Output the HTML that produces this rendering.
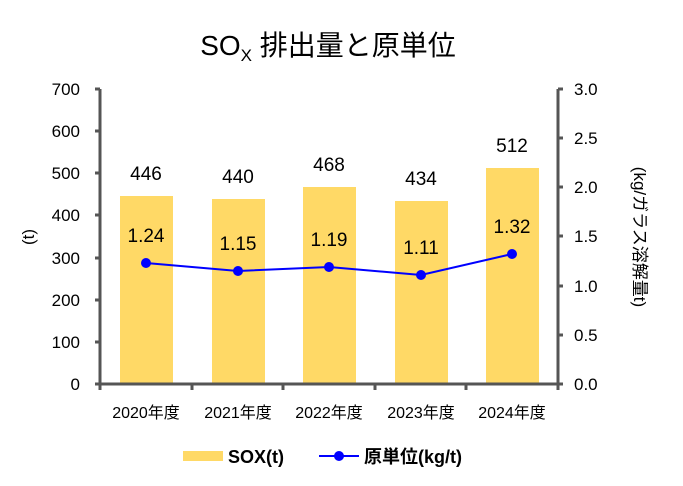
<html><body style="margin:0;background:#fff">
<svg width="683" height="486" xmlns="http://www.w3.org/2000/svg" font-family="Liberation Sans, Noto Sans CJK JP, sans-serif">
<rect width="683" height="486" fill="#fff"/>
<text x="328" y="55" font-size="28" text-anchor="middle" fill="#000">SO<tspan font-size="17" dy="6">X</tspan><tspan dy="-6"> 排出量と原単位</tspan></text>
<g fill="#FFD966">
<rect x="120" y="196" width="53" height="188"/>
<rect x="212" y="199" width="53" height="185"/>
<rect x="303" y="187" width="53" height="197"/>
<rect x="395" y="201" width="53" height="183"/>
<rect x="486" y="168" width="53" height="216"/>
</g>
<g stroke="#555" stroke-width="3" fill="none">
<path d="M100 89V384H558V89"/>
<path d="M95 89H100M95 131H100M95 173H100M95 215H100M95 258H100M95 300H100M95 342H100M95 384H100"/>
<path d="M558 89H563M558 138H563M558 187H563M558 236H563M558 286H563M558 335H563M558 384H563"/>
<path d="M100 384V390M192 384V390M283 384V390M375 384V390M466 384V390M558 384V390"/>
</g>
<g font-size="17" text-anchor="end" fill="#000">
<text x="80" y="95">700</text><text x="80" y="137">600</text><text x="80" y="179">500</text><text x="80" y="221">400</text><text x="80" y="264">300</text><text x="80" y="306">200</text><text x="80" y="348">100</text><text x="80" y="390">0</text>
</g>
<g font-size="17" text-anchor="start" fill="#000">
<text x="574" y="95">3.0</text><text x="574" y="144">2.5</text><text x="574" y="193">2.0</text><text x="574" y="242">1.5</text><text x="574" y="292">1.0</text><text x="574" y="341">0.5</text><text x="574" y="390">0.0</text>
</g>
<text x="34" y="237" font-size="17" transform="rotate(-90 34 237)" text-anchor="middle">(t)</text>
<text x="634" y="237" font-size="17" transform="rotate(90 634 237)" text-anchor="middle">(kg/ガラス溶解量t)</text>
<g font-size="16" text-anchor="middle">
<text x="146" y="418">2020年度</text><text x="238" y="418">2021年度</text><text x="329" y="418">2022年度</text><text x="421" y="418">2023年度</text><text x="512" y="418">2024年度</text>
</g>
<g font-size="19" text-anchor="middle">
<text x="146" y="180">446</text><text x="238" y="183">440</text><text x="329" y="171">468</text><text x="421" y="185">434</text><text x="512" y="152">512</text>
<text x="146" y="242">1.24</text><text x="238" y="250">1.15</text><text x="329" y="246">1.19</text><text x="421" y="254">1.11</text><text x="512" y="233">1.32</text>
</g>
<polyline points="146,263 238,271 329,267 421,275 512,254" fill="none" stroke="#0000FF" stroke-width="2"/>
<g fill="#0000FF"><circle cx="146" cy="263" r="5"/><circle cx="238" cy="271" r="5"/><circle cx="329" cy="267" r="5"/><circle cx="421" cy="275" r="5"/><circle cx="512" cy="254" r="5"/></g>
<rect x="183" y="451" width="40" height="10" fill="#FFD966"/>
<text x="228" y="463" font-size="18" font-weight="bold">SOX(t)</text>
<line x1="319" y1="456" x2="359" y2="456" stroke="#0000FF" stroke-width="2"/>
<circle cx="339" cy="456" r="5" fill="#0000FF"/>
<text x="364" y="463" font-size="18" font-weight="bold">原単位(kg/t)</text>
</svg>
</body></html>
